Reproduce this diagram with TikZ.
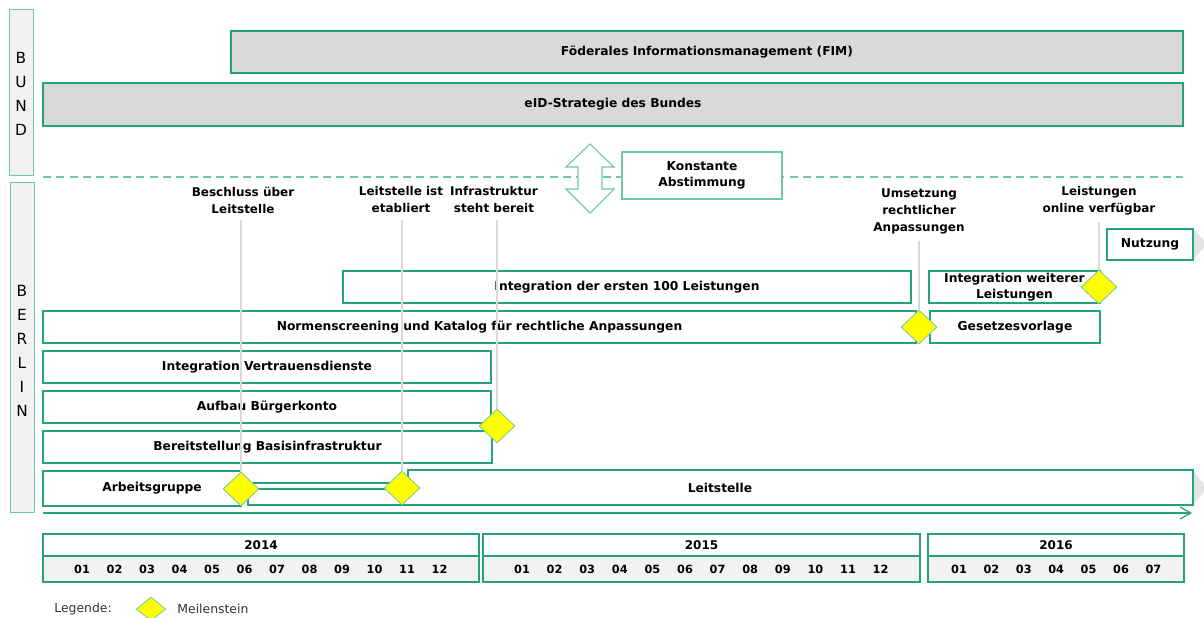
\documentclass[tikz,border=0pt]{standalone}
\usepackage{fontspec}
\setmainfont{DejaVu Sans}
\usepackage{xcolor}
\usepackage{tikz}
\usetikzlibrary{arrows.meta, positioning, shapes.geometric}
\definecolor{barline}{RGB}{38,163,120}
\definecolor{thinline}{RGB}{110,200,165}
\definecolor{bundgray}{RGB}{217,217,217}
\definecolor{sidegray}{RGB}{242,242,242}
\definecolor{msyellow}{RGB}{255,255,0}
\definecolor{tipgray}{RGB}{228,228,228}

\begin{document}
\begin{tikzpicture}[
            x=0.75pt, y=-0.75pt,
            bar/.style={rectangle, draw=barline, line width=1.5pt, fill=white, inner sep=0pt, minimum height=24pt, font=\bfseries\fontsize{9.2}{12}\selectfont, align=center},
            bundbar/.style={bar, fill=bundgray},
            sidebox/.style={rectangle, draw=thinline, line width=0.6pt, fill=sidegray, inner sep=0pt, minimum width=18pt},
            sideletters/.style={font=\fontsize{11.5}{18}\selectfont, align=center, inner sep=0pt},
            notebox/.style={rectangle, draw=thinline, line width=0.8pt, fill=white, inner sep=0pt, font=\bfseries\fontsize{9.2}{12}\selectfont, align=center},
            milestone/.style={diamond, draw=thinline, line width=0.6pt, fill=msyellow, inner sep=0pt, minimum width=27pt, minimum height=25.5pt},
            mslabel/.style={font=\bfseries\fontsize{9}{12.75}\selectfont, align=center, inner sep=1pt},
            msline/.style={draw=black!15, line width=1.1pt},
            yearbox/.style={rectangle, draw=barline, line width=1.1pt, fill=white, inner sep=0pt, minimum height=16.5pt, font=\bfseries\fontsize{9}{10}\selectfont},
            monthbox/.style={yearbox, fill=sidegray, minimum height=19.5pt},
            month/.style={font=\bfseries\fontsize{8.5}{9}\selectfont, inner sep=0pt},
            legendtext/.style={font=\fontsize{9.3}{10}\selectfont, text=black!80},
            arrow/.style={-{Straight Barb[length=8pt, width=9pt]}, draw=barline, line width=0.9pt}
        ]
            \useasboundingbox (0,0) rectangle (1204,618);

            \node[sidebox, minimum height=124.5pt] (bund) at (21,92) {};
            \node[sideletters] (bundlbl) at (21,94) {B\\U\\N\\D};
            \node[sidebox, minimum height=247.5pt] (berlin) at (22,347) {};
            \node[sideletters] (berlinlbl) at (22,351) {B\\E\\R\\L\\I\\N};

            \node[bundbar, minimum width=714pt, minimum height=31.5pt] (fim) at (707,52) {Föderales Informationsmanagement (FIM)};
            \node[bundbar, minimum width=855pt, minimum height=32.25pt] (eid) at (613,104.5) {eID-Strategie des Bundes};

            \draw[thinline, line width=0.9pt, dash pattern=on 6pt off 4pt] (43,177) -- (1183,177);
            \draw[thinline, line width=0.8pt, fill=white] (590,144) -- (614,167) -- (602,167) -- (602,189) -- (614,189) -- (590,213) -- (566,189) -- (578,189) -- (578,167) -- (566,167) -- cycle;
            \node[notebox, minimum width=120pt, minimum height=35.25pt] (konst) at (702,175.5) {Konstante\\Abstimmung};

            \fill[tipgray] (1193,228) -- (1207,244) -- (1193,260) -- cycle;
            \fill[tipgray] (1193,470) -- (1207,488) -- (1193,505) -- cycle;

            \node[bar, minimum width=64.5pt, minimum height=23.25pt] (nutzung) at (1150,244.5) {Nutzung};
            \node[bar, minimum width=426pt] (int100) at (627,287) {Integration der ersten 100 Leistungen};
            \node[bar, minimum width=128.25pt] (intweiter) at (1014.5,287) {Integration weiterer\\Leistungen};
            \node[bar, minimum width=654.75pt] (normen) at (479.5,327) {Normenscreening und Katalog für rechtliche Anpassungen};
            \node[bar, minimum width=127.5pt] (gesetz) at (1015,327) {Gesetzesvorlage};
            \node[bar, minimum width=336pt] (vertrauen) at (267,367) {Integration Vertrauensdienste};
            \node[bar, minimum width=336pt] (konto) at (267,407) {Aufbau Bürgerkonto};
            \node[bar, minimum width=336.75pt] (basis) at (267.5,447) {Bereitstellung Basisinfrastruktur};
            \node[bar, minimum width=148.5pt, minimum height=26.25pt] (ag) at (142,488.5) {\hspace*{15pt}Arbeitsgruppe};
            \draw[barline, line width=1pt, fill=white] (246,483) rectangle (394,489);
            \draw[barline, line width=1.5pt, fill=white] (248,489) -- (248,505) -- (1193,505) -- (1193,470) -- (408,470) -- (408,489) -- cycle;
            \node[font=\bfseries\fontsize{9.2}{12}\selectfont] (leitstelle) at (720,488) {Leitstelle};

            \coordinate (t0) at (43,513);
            \coordinate (t1) at (1192,513);
            \draw[arrow] (t0) -- (t1);

            \node[mslabel] (lbl1) at (243,200) {Beschluss über\\Leitstelle};
            \node[mslabel] (lbl2) at (401,200) {Leitstelle ist\\etabliert};
            \node[mslabel] (lbl3) at (494,200) {Infrastruktur\\steht bereit};
            \node[mslabel] (lbl4) at (919,211) {Umsetzung\\rechtlicher\\Anpassungen};
            \node[mslabel] (lbl5) at (1099,201) {Leistungen\\online verfügbar};

            \coordinate (p1) at (241,489);
            \coordinate (p2) at (402,488);
            \coordinate (p3) at (497,426);
            \coordinate (p4) at (919,327);
            \coordinate (p5) at (1099,287);
            \draw[msline] ([yshift=-4pt]p1 |- lbl1.south) -- (p1);
            \draw[msline] ([yshift=-4pt]p2 |- lbl2.south) -- (p2);
            \draw[msline] ([yshift=-4pt]p3 |- lbl3.south) -- (p3);
            \draw[msline] ([yshift=-4pt]p4 |- lbl4.south) -- (p4);
            \draw[msline] ([yshift=-4pt]p5 |- lbl5.south) -- (p5);
            \node[milestone] (ms1) at (p1) {};
            \node[milestone] (ms2) at (p2) {};
            \node[milestone] (ms3) at (p3) {};
            \node[milestone] (ms4) at (p4) {};
            \node[milestone] (ms5) at (p5) {};

            \node[yearbox, minimum width=327pt] (y2014) at (261,545) {2014};
            \node[monthbox, minimum width=327pt] (m2014) at (261,569) {};
            \node[yearbox, minimum width=327.75pt] (y2015) at (701.5,545) {2015};
            \node[monthbox, minimum width=327.75pt] (m2015) at (701.5,569) {};
            \node[yearbox, minimum width=192pt] (y2016) at (1056,545) {2016};
            \node[monthbox, minimum width=192pt] (m2016) at (1056,569) {};
            \foreach \m [count=\i from 0] in {01,02,03,04,05,06,07,08,09,10,11,12} {
                \node[month] (a\m) at ({82+\i*32.5},569) {\m};
                \node[month] (b\m) at ({522+\i*32.6},569) {\m};
            }
            \foreach \m [count=\i from 0] in {01,02,03,04,05,06,07} {
                \node[month] (c\m) at ({959+\i*32.4},569) {\m};
            }

            \node[legendtext] (legende) at (83,609) {Legende:};
            \node[milestone, minimum width=22pt, minimum height=18pt] (legms) at (151,609) {};
            \node[legendtext, right=5pt of legms] (legtext) {Meilenstein};
        \end{tikzpicture}
\end{document}
